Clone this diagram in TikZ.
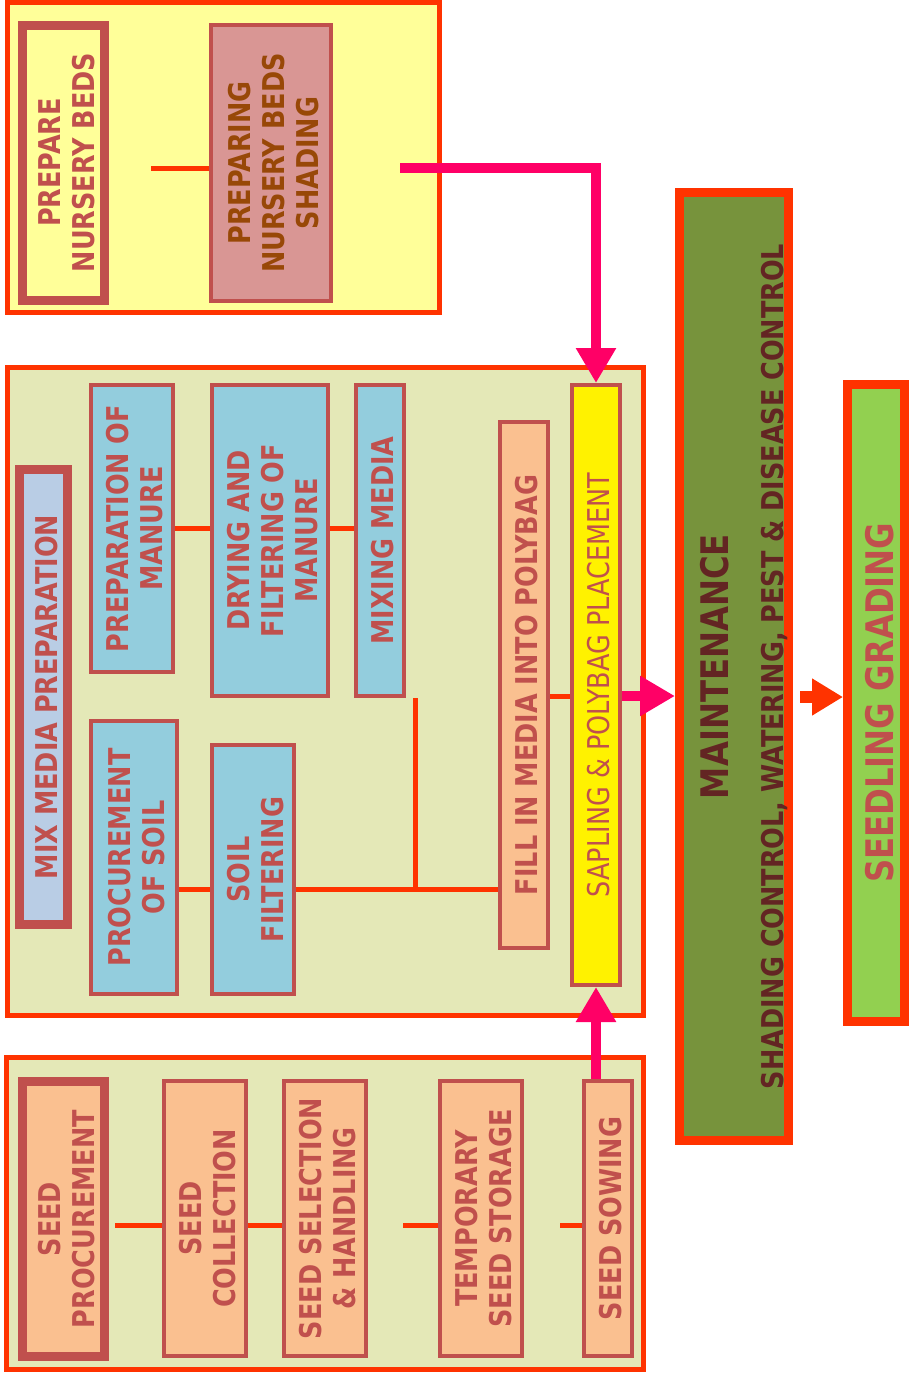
\documentclass[tikz,border=0pt]{standalone}
\usepackage{fontspec}
\setmainfont{DejaVu Sans}
\newfontfamily\boxfont[FakeStretch=0.85]{DejaVu Sans}
\usetikzlibrary{arrows.meta, positioning}
\definecolor{panelred}{RGB}{255, 51, 0}
\definecolor{boxred}{RGB}{192, 80, 77}
\definecolor{paleyellow}{RGB}{255, 255, 153}
\definecolor{paleolive}{RGB}{228, 232, 183}
\definecolor{skyblue}{RGB}{147, 205, 221}
\definecolor{peach}{RGB}{250, 192, 144}
\definecolor{lavender}{RGB}{185, 205, 229}
\definecolor{dustypink}{RGB}{217, 150, 148}
\definecolor{hotpink}{RGB}{255, 0, 102}
\definecolor{mossgreen}{RGB}{119, 147, 60}
\definecolor{limegreen}{RGB}{146, 208, 80}
\definecolor{rust}{RGB}{152, 72, 7}
\definecolor{darkmaroon}{RGB}{99, 37, 35}
\newcommand{\vtext}[1]{\kern14pt\rotatebox{90}{\begin{tabular}{@{}c@{}}#1\end{tabular}}}

\begin{document}
\begin{tikzpicture}[x=1pt, y=-1pt,
    stepbox/.style={draw=boxred, line width=4pt, inner sep=0pt, text=boxred,
      font=\boxfont\bfseries\fontsize{30}{34}\selectfont},
    headbox/.style={stepbox, line width=9pt},
    bigbox/.style={draw=panelred, line width=9pt, inner sep=0pt},
    panel/.style={draw=panelred, line width=5pt},
    link/.style={draw=panelred, line width=5pt},
    pinkarrow/.style={draw=hotpink, line width=10pt, -{Triangle[length=35pt, width=38pt]}},
    gradearrow/.style={draw=panelred, line width=12pt, -{Triangle[length=31pt, width=35pt]}}]
  \useasboundingbox (0,0) rectangle (910,1377);

  % Nursery beds
  \draw[panel, fill=paleyellow] (7,2.5) rectangle (439.5,312.5);
  \node[headbox, fill=paleyellow, minimum width=82.5pt, minimum height=275pt]
    (prepbeds) at (63.25,162.5) {\vtext{PREPARE\\NURSERY BEDS}};
  \node[stepbox, fill=dustypink, text=rust, minimum width=120pt, minimum height=276pt]
    (shading) at (271,163) {\vtext{PREPARING\\NURSERY BEDS\\SHADING}};
  \coordinate (bedgap) at (151,168);
  \draw[link] (bedgap) -- (bedgap -| shading.west);

  % Mix media
  \draw[panel, fill=paleolive] (7,367) rectangle (643,1015);
  \node[headbox, fill=lavender, minimum width=47.5pt, minimum height=455.5pt]
    (mixprep) at (43.25,697) {\vtext{MIX MEDIA PREPARATION}};
  \node[stepbox, fill=skyblue, minimum width=82pt, minimum height=287pt]
    (prepman) at (132,528.5) {\vtext{PREPARATION OF\\MANURE}};
  \node[stepbox, fill=skyblue, minimum width=115pt, minimum height=311pt]
    (drying) at (269.5,540.5) {\vtext{DRYING AND\\FILTERING OF\\MANURE}};
  \node[stepbox, fill=skyblue, minimum width=47pt, minimum height=311pt]
    (mixing) at (379.5,540.5) {\vtext{MIXING MEDIA}};
  \node[stepbox, fill=skyblue, minimum width=86pt, minimum height=273pt]
    (procsoil) at (134,857.5) {\vtext{PROCUREMENT\\OF SOIL}};
  \node[stepbox, fill=skyblue, minimum width=81pt, minimum height=249pt]
    (soilfilt) at (252.5,869.5) {\vtext{SOIL\\FILTERING}};
  \node[stepbox, fill=peach, minimum width=48pt, minimum height=526pt]
    (fillin) at (524,685) {\vtext{FILL IN MEDIA INTO POLYBAG}};
  \node[stepbox, fill=yellow, font=\boxfont\fontsize{30}{34}\selectfont,
    minimum width=48pt, minimum height=600pt]
    (sapling) at (596,685) {\vtext{SAPLING \& POLYBAG PLACEMENT}};
  \draw[link] (prepman.east) -- (prepman.east -| drying.west);
  \draw[link] (prepman.east -| drying.east) -- (prepman.east -| mixing.west);
  \coordinate (soilrow) at (415,889);
  \draw[link] (procsoil.east |- soilrow) -- (soilfilt.west |- soilrow);
  \draw[link] (soilfilt.east |- soilrow) -- (fillin.west |- soilrow);
  \draw[link] (soilrow |- mixing.south) -- (soilrow);
  \coordinate (midrow) at (620,696);
  \draw[link] (fillin.east |- midrow) -- (sapling.west |- midrow);

  % Seeds
  \draw[panel, fill=paleolive] (6.5,1057) rectangle (643,1369);
  \node[headbox, fill=peach, minimum width=82.5pt, minimum height=275.5pt]
    (seedproc) at (63.5,1219) {\vtext{SEED\\PROCUREMENT}};
  \node[stepbox, fill=peach, minimum width=81pt, minimum height=275pt]
    (seedcoll) at (204.5,1218.5) {\vtext{SEED\\COLLECTION}};
  \node[stepbox, fill=peach, minimum width=81pt, minimum height=275pt]
    (seedsel) at (324.5,1218.5) {\vtext{SEED SELECTION\\\& HANDLING}};
  \node[stepbox, fill=peach, minimum width=82pt, minimum height=275pt]
    (tempstore) at (481,1218.5) {\vtext{TEMPORARY\\SEED STORAGE}};
  \node[stepbox, fill=peach, minimum width=48pt, minimum height=275pt]
    (sowing) at (608,1218.5) {\vtext{SEED SOWING}};
  \coordinate (seedgapA) at (115,1225);
  \coordinate (seedgapB) at (403,1225);
  \coordinate (seedgapC) at (560,1225);
  \draw[link] (seedgapA) -- (seedgapA -| seedcoll.west);
  \draw[link] (seedcoll.east |- seedgapA) -- (seedsel.west |- seedgapA);
  \draw[link] (seedgapB) -- (seedgapB -| tempstore.west);
  \draw[link] (seedgapC) -- (seedgapC -| sowing.west);

  % Maintenance and grading
  \node[bigbox, fill=mossgreen, minimum width=109pt, minimum height=948pt]
    (maint) at (734,666.5) {};
  \node[text=darkmaroon, inner sep=0pt, font=\boxfont\bfseries\fontsize{30}{34}\selectfont]
    (mainttext) at (746.75,666.5) {\rotatebox{90}{\begin{tabular}{@{}c@{}}
      {\fontsize{38}{40}\selectfont MAINTENANCE}\\[21pt]
      SHADING CONTROL, WATERING, PEST \& DISEASE CONTROL\end{tabular}}};
  \node[bigbox, fill=limegreen, text=boxred, minimum width=56.5pt, minimum height=636.5pt,
    font=\boxfont\bfseries\fontsize{38}{40}\selectfont]
    (grading) at (875.75,702.75) {\kern8pt\rotatebox{90}{SEEDLING GRADING}};

  % Arrows
  \coordinate (pinkgap) at (400,168);
  \draw[pinkarrow] (pinkgap) -| (sapling.north);
  \draw[pinkarrow] (sapling.south |- sowing.north) -- (sapling.south);
  \draw[pinkarrow] (sapling.east |- midrow) -- (maint.west |- midrow);
  \coordinate (gradegap) at (800,697);
  \draw[gradearrow] (gradegap) -- (gradegap -| grading.west);
\end{tikzpicture}
\end{document}
